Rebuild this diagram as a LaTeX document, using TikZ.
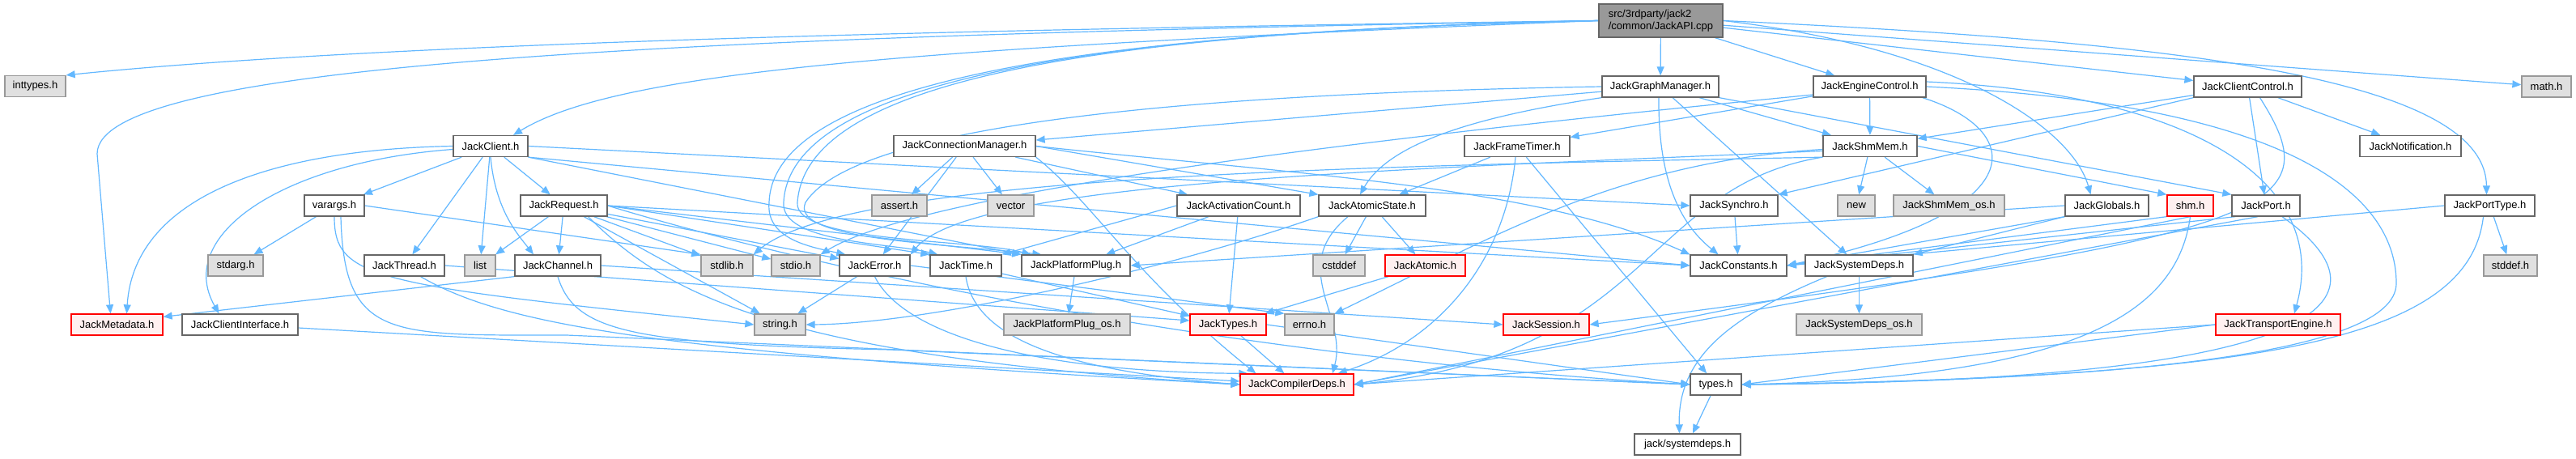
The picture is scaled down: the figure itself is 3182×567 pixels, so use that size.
\documentclass[tikz,border=0pt]{standalone}
\usepackage{fontspec}
\setmainfont{Liberation Sans}
\usetikzlibrary{arrows.meta,calc}
\pgfdeclarelayer{bottom}
\pgfdeclarelayer{background}
\pgfsetlayers{bottom,background,main}
\definecolor{edgec}{HTML}{63B8FF}
\definecolor{bord}{HTML}{666666}
\definecolor{gbord}{HTML}{999999}
\definecolor{gfill}{HTML}{E0E0E0}
\definecolor{rfill}{HTML}{FFF0F0}
\definecolor{rbord}{HTML}{FF0000}
\definecolor{apifill}{HTML}{999999}
\begin{document}
\begin{tikzpicture}[x=1bp,y=-1bp,
  box/.style={rectangle, minimum height=26bp, inner sep=0pt, line width=1.3bp, font=\fontsize{13.05}{15}\selectfont, text=black},
  nw/.style={box, draw=bord, fill=white},
  ng/.style={box, draw=gbord, fill=gfill},
  nr/.style={box, draw=rbord, fill=rfill},
  napi/.style={box, draw=bord, fill=apifill, minimum height=41bp, align=left, inner xsep=9bp},
  edge/.style={draw=edgec, line width=1.2bp, -{Triangle[length=11bp,width=9bp]}}]
\useasboundingbox (0,0) rectangle (3182,567);
\begin{pgfonlayer}{bottom}
\fill[white] (0,0) rectangle (3182,567);
\end{pgfonlayer}

% ---- nodes ----
\node[napi, minimum width=153bp] (api) at (2051.5,25.5) {src/3rdparty/jack2\\/common/JackAPI.cpp};
% row B
\node[ng, minimum width=75bp] (inttypes) at (43.5,106.5) {inttypes.h};
\node[nw, minimum width=144bp] (gm) at (2051,107) {JackGraphManager.h};
\node[nw, minimum width=139bp] (ec) at (2309.5,107) {JackEngineControl.h};
\node[nw, minimum width=133bp] (cc) at (2776.5,107) {JackClientControl.h};
\node[ng, minimum width=61bp] (mathh) at (3145.5,107) {math.h};
% row C
\node[nw, minimum width=92bp] (client) at (606,180.5) {JackClient.h};
\node[nw, minimum width=175bp] (cm) at (1191.5,180.5) {JackConnectionManager.h};
\node[nw, minimum width=130bp] (ft) at (1874,180.5) {JackFrameTimer.h};
\node[nw, minimum width=116bp] (shmmem) at (2310,180.5) {JackShmMem.h};
\node[nw, minimum width=125bp] (notif) at (2977.5,180.5) {JackNotification.h};
% row D
\node[nw, minimum width=74bp] (varargs) at (413,254) {varargs.h};
\node[nw, minimum width=107bp] (request) at (696.5,254) {JackRequest.h};
\node[ng, minimum width=68bp] (assert) at (1111,254) {assert.h};
\node[ng, minimum width=57bp] (vector) at (1248.5,254) {vector};
\node[nw, minimum width=152bp] (actcount) at (1530,254) {JackActivationCount.h};
\node[nw, minimum width=132bp] (atomicstate) at (1695,254) {JackAtomicState.h};
\node[nw, minimum width=108bp] (synchro) at (2142,254) {JackSynchro.h};
\node[ng, minimum width=46bp] (new) at (2293,254) {new};
\node[ng, minimum width=137bp] (shmmemos) at (2407.5,254) {JackShmMem\_os.h};
\node[nw, minimum width=103bp] (globals) at (2602.5,254) {JackGlobals.h};
\node[nr, minimum width=57bp] (shm) at (2705.5,254) {shm.h};
\node[nw, minimum width=84bp] (port) at (2799,254) {JackPort.h};
\node[nw, minimum width=111bp] (porttype) at (3075.5,254) {JackPortType.h};
% row E
\node[ng, minimum width=68bp] (stdarg) at (291,328) {stdarg.h};
\node[nw, minimum width=99bp] (thread) at (499.5,328) {JackThread.h};
\node[ng, minimum width=38bp] (list) at (593,328) {list};
\node[nw, minimum width=106bp] (channel) at (689,328) {JackChannel.h};
\node[ng, minimum width=64bp] (stdlib) at (898,328) {stdlib.h};
\node[ng, minimum width=60bp] (stdio) at (983,328) {stdio.h};
\node[nw, minimum width=87bp] (error) at (1080.5,328) {JackError.h};
\node[nw, minimum width=88bp] (time) at (1193,328) {JackTime.h};
\node[nw, minimum width=134bp] (pplug) at (1329,328) {JackPlatformPlug.h};
\node[ng, minimum width=64bp] (cstddef) at (1654,328) {cstddef};
\node[nr, minimum width=99bp] (atomic) at (1760.5,328) {JackAtomic.h};
\node[nw, minimum width=119bp] (constants) at (2147.5,328) {JackConstants.h};
\node[nw, minimum width=133bp] (sysdeps) at (2296.5,328) {JackSystemDeps.h};
\node[ng, minimum width=66bp] (stddef) at (3101,328) {stddef.h};
% row F
\node[nr, minimum width=113bp] (metadata) at (144.5,401) {JackMetadata.h};
\node[nw, minimum width=143bp] (clientif) at (296.5,401) {JackClientInterface.h};
\node[ng, minimum width=63bp] (string) at (963.5,401) {string.h};
\node[ng, minimum width=156bp] (pplugos) at (1318,401) {JackPlatformPlug\_os.h};
\node[nr, minimum width=94bp] (jtypes) at (1517,401) {JackTypes.h};
\node[ng, minimum width=61bp] (errno) at (1617.5,401) {errno.h};
\node[nr, minimum width=106bp] (session) at (1910,401) {JackSession.h};
\node[ng, minimum width=155bp] (sysdepsos) at (2296.5,401) {JackSystemDeps\_os.h};
\node[nr, minimum width=154bp] (transport) at (2814,401) {JackTransportEngine.h};
% row G
\node[nr, minimum width=140bp] (compdeps) at (1602,475) {JackCompilerDeps.h};
\node[nw, minimum width=63bp] (types) at (2119.5,475) {types.h};
% row H
\node[nw, minimum width=131bp] (jsysdeps) at (2084.5,549) {jack/systemdeps.h};

% ---- edges ----
\begin{pgfonlayer}{background}
% from JackAPI.cpp
\draw[edge] (api.west) .. controls (1300,35) and (500,50) .. (inttypes.north east);
\draw[edge] (api.west) .. controls (800,45) and (120,80) .. (120,190) -- ($(metadata.north)+(-8,0)$);
\draw[edge] (api.west) .. controls (1100,60) and (760,90) .. ($(client.north)+(28,0)$);
\draw[edge] (api.west) .. controls (1300,40) and (955,110) .. (950,250) .. controls (946,295) and (1000,305) .. ($(error.north west)+(8,0)$);
\draw[edge] (api.west) .. controls (1300,40) and (975,110) .. (968,250) .. controls (964,300) and (1100,300) .. ($(time.north west)+(10,0)$);
\draw[edge] (api.west) .. controls (1300,40) and (995,110) .. (985,250) .. controls (980,300) and (1200,295) .. ($(pplug.north west)+(12,0)$);
\draw[edge] (api) -- (gm);
\draw[edge] (api) -- (ec);
\draw[edge] (api) -- (cc);
\draw[edge] (api) -- (mathh);
\draw[edge] (api.east) .. controls (2420,60) and (2560,160) .. ($(globals.north)+(-20,0)$);
\draw[edge] (api.east) .. controls (2650,50) and (3070,90) .. ($(porttype.north)+(-4,0)$);
% JackClient.h
\draw[edge] (client) -- (varargs);
\draw[edge] (client) -- (request);
\draw[edge] (client) -- (thread);
\draw[edge] (client) -- (list);
\draw[edge] (client.south) .. controls (612,260) and (640,290) .. ($(channel.north)+(-30,0)$);
\draw[edge] (client.west) .. controls (320,185) and (165,250) .. ($(metadata.north)+(12,0)$);
\draw[edge] ($(client.west)+(0,4)$) .. controls (350,200) and (215,290) .. ($(clientif.north)+(-26,0)$);
\draw[edge] (client.east) -- (synchro.west);
\draw[edge] (client.south east) -- (pplug.north west);
\draw[edge] (client.south east) -- (constants.west);
% JackClientInterface.h
\draw[edge] (clientif) -- (compdeps);
% varargs.h
\draw[edge] (varargs) -- (stdarg);
\draw[edge] (varargs.east) -- (stdlib.north west);
\draw[edge] (varargs.south) .. controls (413,345) and (460,352) .. (string.west);
\draw[edge] ($(varargs.south)+(8,0)$) .. controls (425,420) and (480,414) .. (700,414) -- (types.west);
% JackThread.h
\draw[edge] (thread.east) -- ($(jtypes.west)+(0,-5)$);
\draw[edge] ($(thread.south)+(20,0)$) .. controls (620,400) and (800,435) .. (compdeps.west);
% JackChannel.h
\draw[edge] (channel.south west) -- ($(metadata.north east)+(0,4)$);
\draw[edge] (channel.east) -- (session.west);
\draw[edge] (channel.south) .. controls (710,410) and (780,425) .. (1100,432) -- (types.west);
% JackRequest.h
\draw[edge] (request) -- (list);
\draw[edge] (request) -- (channel);
\draw[edge] (request) -- (stdlib);
\draw[edge] (request) -- (stdio);
\draw[edge] (request) -- (error);
\draw[edge] (request) -- (string);
\draw[edge] (request.east) -- (constants.west);
\draw[edge] (request.east) -- (pplug.north west);
\draw[edge] (request.east) -- (time.north west);
\draw[edge] (request.east) .. controls (1000,330) and (1500,440) .. (types.west);
\draw[edge] ($(request.south)+(30,0)$) .. controls (820,360) and (950,440) .. (compdeps.west);
% JackError.h
\draw[edge] (error) -- (string);
\draw[edge] (error.south) .. controls (1120,420) and (1300,460) .. ($(compdeps.north west)+(10,0)$);
\draw[edge] (error.east) -- (errno.north west);
% JackTime.h
\draw[edge] (time.south) .. controls (1205,420) and (1320,458) .. (compdeps.west);
\draw[edge] (time) -- (jtypes);
% JackPlatformPlug.h
\draw[edge] (pplug) -- (pplugos);
% JackConnectionManager.h
\draw[edge] (cm) -- (assert);
\draw[edge] (cm) -- (vector);
\draw[edge] (cm) -- (actcount);
\draw[edge] (cm) -- (error);
\draw[edge] (cm.east) -- (atomicstate.north west);
\draw[edge] (cm.east) .. controls (1600,215) and (1900,230) .. (constants.north west);
\draw[edge] (cm.south east) .. controls (1350,250) and (1400,340) .. ($(compdeps.north west)+(20,0)$);
% JackActivationCount.h
\draw[edge] (actcount) -- (pplug);
\draw[edge] (actcount.west) -- (time.north east);
\draw[edge] (actcount) -- (jtypes);
% JackAtomicState.h
\draw[edge] (atomicstate) -- (atomic);
\draw[edge] (atomicstate) -- (cstddef);
\draw[edge] ($(atomicstate.south)+(-30,0)$) .. controls (1590,330) and (1665,390) .. ($(compdeps.north)+(44,0)$);
\draw[edge] (atomicstate.south west) .. controls (1450,330) and (1150,400) .. (string.east);
% JackAtomic.h
\draw[edge] (atomic) -- (jtypes);
% JackFrameTimer.h
\draw[edge] (ft) -- (atomicstate);
\draw[edge] ($(ft.south)+(-2,0)$) .. controls (1860,320) and (1780,420) .. ($(compdeps.north east)+(-20,0)$);
\draw[edge] (ft) -- (types);
% JackGraphManager.h
\draw[edge] (gm) -- (cm);
\draw[edge] (gm) -- (shmmem);
\draw[edge] (gm.south east) -- (port.north west);
\draw[edge] (gm) -- (sysdeps);
\draw[edge] (gm.south west) .. controls (1850,140) and (1720,170) .. ($(atomicstate.north)+(-15,0)$);
\draw[edge] ($(gm.south)+(-2,0)$) .. controls (2048,230) and (2080,280) .. ($(constants.north)+(-25,0)$);
\draw[edge] (gm.west) .. controls (1500,115) and (1060,150) .. (995,250) .. controls (975,295) and (1150,300) .. ($(pplug.north west)+(25,0)$);
% JackEngineControl.h
\draw[edge] (ec) -- (shmmem);
\draw[edge] (ec) -- (ft);
\draw[edge] ($(ec.west)+(0,10)$) .. controls (1800,160) and (1150,230) .. (stdio.north east);
\draw[edge] ($(ec.south east)+(-5,0)$) .. controls (2500,160) and (2520,260) .. (constants.east);
\draw[edge] ($(ec.east)+(0,-6)$) .. controls (2700,115) and (2880,220) .. ($(transport.north)+(20,0)$);
\draw[edge] (ec.east) .. controls (2850,130) and (2960,250) .. (2960,350) .. controls (2960,440) and (2600,470) .. (types.east);
% JackShmMem.h
\draw[edge] (shmmem) -- (new);
\draw[edge] (shmmem) -- (shmmemos);
\draw[edge] (shmmem.east) -- (shm.north west);
\draw[edge] (shmmem.south west) .. controls (1700,205) and (1050,215) .. (stdlib.north east);
\draw[edge] ($(shmmem.west)+(0,6)$) .. controls (1700,210) and (1200,225) .. (error.north east);
\draw[edge] ($(shmmem.west)+(0,4)$) .. controls (2000,200) and (1850,290) .. (errno.north east);
\draw[edge] (shmmem.south west) .. controls (2030,230) and (2040,440) .. (compdeps.east);
% JackClientControl.h
\draw[edge] (cc) -- (shmmem);
\draw[edge] (cc.south west) -- (synchro.north east);
\draw[edge] (cc) -- (notif);
\draw[edge] (cc) -- (port);
\draw[edge] ($(cc.south)+(15,0)$) .. controls (2880,260) and (2820,290) .. (session.east);
% JackPort.h
\draw[edge] ($(port.south west)+(5,0)$) -- (constants.east);
\draw[edge] ($(port.south)+(-10,0)$) -- (compdeps.east);
\draw[edge] ($(port.south)+(20,0)$) .. controls (2950,360) and (2920,470) .. (types.east);
% shm.h
\draw[edge] (shm.south west) -- (constants.east);
\draw[edge] (shm.south) -- (compdeps.east);
\draw[edge] (shm.south) .. controls (2690,380) and (2580,465) .. (types.east);
% JackGlobals.h
\draw[edge] (globals.west) -- (pplug.east);
\draw[edge] (globals.south west) -- (constants.east);
\draw[edge] (globals.south west) -- (sysdeps.north east);
% JackPortType.h
\draw[edge] (porttype.west) -- (constants.east);
\draw[edge] (porttype) -- (stddef);
\draw[edge] ($(porttype.south)+(-8,0)$) .. controls (3050,420) and (2800,465) .. (types.east);
% others
\draw[edge] (synchro) -- (constants);
\draw[edge] (sysdeps) -- (sysdepsos);
\draw[edge] ($(sysdeps.south)+(-40,0)$) .. controls (2140,390) and (2072,440) .. ($(jsysdeps.north)+(-10,0)$);
\draw[edge] (types) -- (jsysdeps);
\draw[edge] (jtypes) -- (compdeps);
\draw[edge] (jtypes.east) -- (types.west);
\draw[edge] (transport.west) -- (compdeps.east);
\draw[edge] (transport.west) -- (types.east);
\end{pgfonlayer}
\end{tikzpicture}
\end{document}
